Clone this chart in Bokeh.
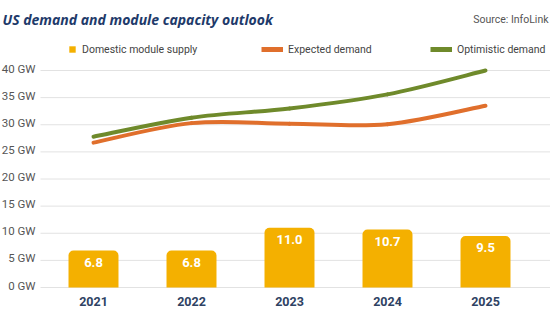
from bokeh.plotting import figure
from bokeh.models import Range1d, FixedTicker, Label, Legend, LegendItem, ColumnDataSource
from bokeh.core.properties import value
from bokeh.embed import file_html
from bokeh.resources import INLINE

# ---- data ----
years = ["2021", "2022", "2023", "2024", "2025"]
supply = [6.8, 6.8, 11.0, 10.7, 9.5]
supply_labels = ["6.8", "6.8", "11.0", "10.7", "9.5"]
expected = [26.7, 30.3, 30.2, 30.1, 33.5]
optimistic = [27.8, 31.3, 33.0, 35.6, 40.0]
y_ticks = [0, 5, 10, 15, 20, 25, 30, 35, 40]
y_tick_labels = ["0 GW", "5 GW", "10 GW", "15 GW", "20 GW", "25 GW", "30 GW", "35 GW", "40 GW"]

FONT = "Roboto"
BAR = "#F4B000"
ORANGE = "#E06F2C"
GREEN = "#6F8A2B"
NAVY = "#1E3A6A"

xs = list(range(len(years)))

# layout constants (pixels)
STEP = 98.0          # px per category
PX_GW = 5.425        # px per GW
FRAME_B = 294.0      # frame bottom in canvas px
ZERO_Y = 287.0       # canvas px of 0 GW
X_START = -93.0 / STEP
X_END = (550.0 - 93.0) / STEP
GRID_X0 = X_START + 40.0 / STEP
Y_START = -(FRAME_B - ZERO_Y) / PX_GW
Y_END = ZERO_Y / PX_GW

p = figure(width=550, height=329, output_backend="svg", toolbar_location=None,
           x_range=Range1d(X_START, X_END), y_range=Range1d(Y_START, Y_END),
           min_border_left=0, min_border_right=0, min_border_top=0,
           min_border_bottom=int(329 - FRAME_B))
p.outline_line_color = None
p.background_fill_color = "white"
p.border_fill_color = "white"
p.yaxis.visible = False
p.xgrid.grid_line_color = None
p.ygrid.grid_line_color = None

# grid lines and y labels from tick arrays
p.segment(x0=[GRID_X0] * len(y_ticks), y0=y_ticks, x1=[X_END] * len(y_ticks), y1=y_ticks,
          line_color="#E2E2E2", line_width=1)
p.text(x=[X_START] * len(y_ticks), y=y_ticks, text=y_tick_labels, x_offset=35,
       y_offset=-2, text_align="right", text_baseline="middle", text_color="#555555",
       text_font=value(FONT), text_font_size="11.5px")

# bars
src = ColumnDataSource(dict(x=xs, top=supply, lab=supply_labels))
bars = p.vbar(x="x", top="top", width=0.51, source=src, fill_color=BAR, line_color=None,
              border_radius=(5, 5, 0, 0))
p.text(x="x", y="top", text="lab", source=src, y_offset=12, text_align="center",
       text_baseline="middle", text_color="white", text_font=value(FONT),
       text_font_style="bold", text_font_size="13px")


def smooth(vals, color):
    n = len(vals)
    x0, y0, x1, y1, cx0, cy0, cx1, cy1 = [], [], [], [], [], [], [], []
    for i in range(n - 1):
        im1 = max(i - 1, 0)
        ip2 = min(i + 2, n - 1)
        x0.append(xs[i]); y0.append(vals[i])
        x1.append(xs[i + 1]); y1.append(vals[i + 1])
        cx0.append(xs[i] + (xs[i + 1] - xs[im1]) / 6)
        cy0.append(vals[i] + (vals[i + 1] - vals[im1]) / 6)
        cx1.append(xs[i + 1] - (xs[ip2] - xs[i]) / 6)
        cy1.append(vals[i + 1] - (vals[ip2] - vals[i]) / 6)
    p.bezier(x0=x0, y0=y0, x1=x1, y1=y1, cx0=cx0, cy0=cy0, cx1=cx1, cy1=cy1,
             line_color=color, line_width=4, line_cap="round")
    return p.line(x=[0], y=[float("nan")], line_color=color, line_width=5)


r_exp = smooth(expected, ORANGE)
r_opt = smooth(optimistic, GREEN)

# x axis
p.xaxis.ticker = FixedTicker(ticks=xs)
p.xaxis.major_label_overrides = {i: y for i, y in zip(xs, years)}
p.xaxis.axis_line_color = None
p.xaxis.major_tick_line_color = None
p.xaxis.minor_tick_line_color = None
p.xaxis.major_tick_in = 0
p.xaxis.major_tick_out = 0
p.xaxis.major_label_standoff = 2
p.xaxis.major_label_text_font = FONT
p.xaxis.major_label_text_font_style = "bold"
p.xaxis.major_label_text_font_size = "12.5px"
p.xaxis.major_label_text_color = "#2E4263"


def make_legend(label, rend, x, gw, standoff):
    lg = Legend(items=[LegendItem(label=label, renderers=[rend])],
                location=(x, FRAME_B - 49 - 7),
                orientation="horizontal", padding=0, margin=0, spacing=0,
                border_line_color=None, background_fill_alpha=0,
                glyph_width=gw, glyph_height=8, label_height=14, label_standoff=standoff,
                label_text_font=FONT, label_text_font_size="10.5px",
                label_text_color="#444444", label_text_baseline="middle")
    p.add_layout(lg, "center")


make_legend("Domestic module supply", bars, 68, 8, 6)
make_legend("Expected demand", r_exp, 261, 22, 5)
make_legend("Optimistic demand", r_opt, 430, 22, 5)

p.add_layout(Label(x=2, y=FRAME_B - 19, x_units="screen", y_units="screen",
                   text="US demand and module capacity outlook", text_baseline="middle",
                   text_font="Open Sans", text_font_style="bold italic",
                   text_font_size="14px", text_color=NAVY))
p.add_layout(Label(x=548, y=FRAME_B - 19, x_units="screen", y_units="screen",
                   text="Source: InfoLink", text_align="right", text_baseline="middle",
                   text_font=FONT, text_font_size="10.5px", text_color="#555555"))

open("out.html", "w").write(file_html(p, INLINE))
